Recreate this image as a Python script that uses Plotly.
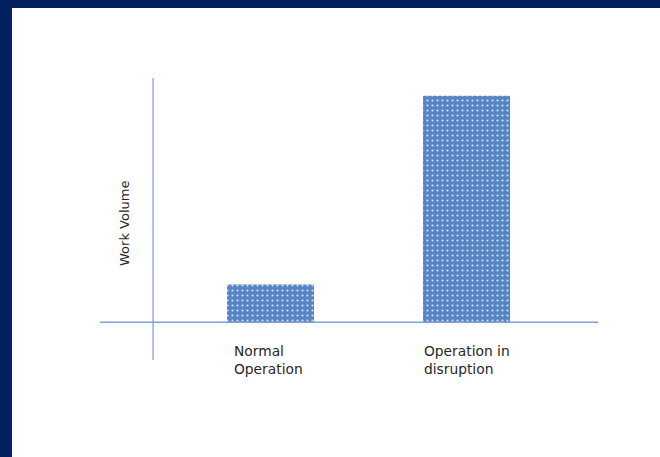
import plotly.graph_objects as go

categories = ["Normal<br>Operation", "Operation in<br>disruption"]
work_volume = [1, 6]

W, H = 660, 457
L, R, T, B = 100, 62, 78, 97
pw, ph = W - L - R, H - T - B

def px_x(p):
    return (p - L) / pw

def px_y(p):
    return (H - B - p) / ph

navy = "#002060"
axis_blue = "#7FA3D6"
bar_blue = "#5585C4"
label_font = dict(family="DejaVu Sans", size=13.8, color="#262626")

xs = list(range(len(categories)))

fig = go.Figure()
fig.add_trace(go.Bar(
    x=xs, y=work_volume, width=0.444,
    marker=dict(
        color=bar_blue,
        line=dict(width=0),
        pattern=dict(shape=".", fgcolor="#D6E3F4", bgcolor=bar_blue,
                     size=5, solidity=0.15, fillmode="replace"),
    ),
    hoverinfo="skip",
))

# category labels, left-aligned under each bar
label_shift = [5, -1]
for i, c in enumerate(categories):
    fig.add_annotation(x=i - 0.222, y=0, xref="x", yref="y", text=c,
                       showarrow=False, xanchor="left", yanchor="top",
                       align="left", xshift=label_shift[i], yshift=-19,
                       font=label_font)

fig.add_annotation(x=px_x(124), y=px_y(224), xref="paper", yref="paper",
                   text="Work Volume", textangle=-90, showarrow=False,
                   xanchor="center", yanchor="middle",
                   font=dict(family="DejaVu Sans", size=13, color="#262626"))

shapes = [
    # horizontal baseline at zero
    dict(type="line", xref="paper", yref="y", x0=0, x1=1, y0=0, y1=0,
         line=dict(color=axis_blue, width=1.3)),
    # vertical axis line
    dict(type="line", xref="x", yref="paper", x0=-0.599, x1=-0.599, y0=0, y1=1,
         line=dict(color=axis_blue, width=1.3)),
    # slide frame: top and left bands
    dict(type="rect", xref="paper", yref="paper", x0=px_x(0), x1=px_x(W),
         y0=px_y(8), y1=px_y(0), fillcolor=navy, line=dict(width=0), layer="above"),
    dict(type="rect", xref="paper", yref="paper", x0=px_x(0), x1=px_x(12),
         y0=px_y(H), y1=px_y(0), fillcolor=navy, line=dict(width=0), layer="above"),
]

fig.update_layout(
    width=W, height=H,
    margin=dict(l=L, r=R, t=T, b=B),
    paper_bgcolor="white", plot_bgcolor="white",
    showlegend=False, shapes=shapes,
    xaxis=dict(range=[-0.870, 1.671], visible=False, fixedrange=True),
    yaxis=dict(range=[-1.0, 6.47], visible=False, fixedrange=True),
)

fig.write_html("out.html")
